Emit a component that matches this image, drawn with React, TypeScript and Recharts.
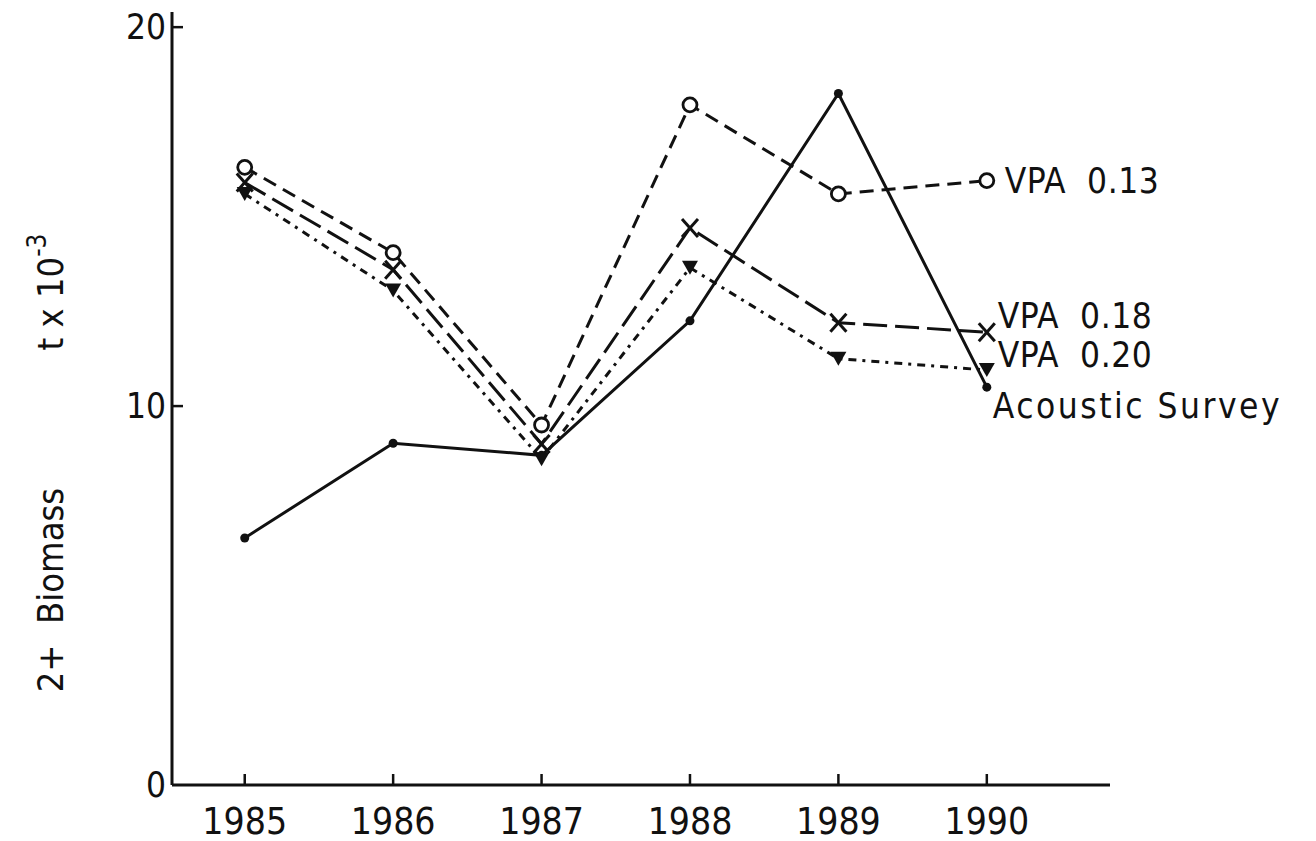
import { LineChart, Line, XAxis, YAxis, LabelList } from "recharts";

// Biomass estimates, t x 10^-3
const years = [1985, 1986, 1987, 1988, 1989, 1990];
const vpa013 = [16.3, 14.05, 9.5, 17.95, 15.6, 15.95];
const vpa018 = [15.9, 13.6, 9.0, 14.7, 12.2, 11.95];
const vpa020 = [15.6, 13.05, 8.6, 13.65, 11.25, 10.95];
const acoustic = [6.52, 9.02, 8.7, 12.25, 18.25, 10.5];
const yTicks = [0, 10, 20];

const data = years.map((year, i) => ({
  year,
  vpa013: vpa013[i],
  vpa018: vpa018[i],
  vpa020: vpa020[i],
  acoustic: acoustic[i],
}));

const FONT = "'DejaVu Sans Condensed', 'Liberation Sans Narrow', sans-serif";
const NARROW = "'Liberation Sans Narrow', 'DejaVu Sans Condensed', sans-serif";
const INK = "#111";

const CircleDot = ({ cx, cy }: any) => (
  <circle cx={cx} cy={cy} r={7} fill="#fff" stroke={INK} strokeWidth={2.8} />
);

const CrossDot = ({ cx, cy }: any) => (
  <g stroke={INK} strokeWidth={3}>
    <line x1={cx - 8} y1={cy - 9} x2={cx + 8} y2={cy + 9} />
    <line x1={cx + 8} y1={cy - 9} x2={cx - 8} y2={cy + 9} />
  </g>
);

const TriangleDot = ({ cx, cy }: any) => (
  <polygon
    points={`${cx - 8},${cy - 7} ${cx + 8},${cy - 7} ${cx},${cy + 7}`}
    fill={INK}
  />
);

const SolidDot = ({ cx, cy }: any) => <circle cx={cx} cy={cy} r={4.5} fill={INK} />;

const series = [
  { key: "vpa013", name: "VPA  0.13", dash: "14 8", dot: CircleDot, dx: 18, dy: 0, spacing: 0.5 },
  { key: "vpa018", name: "VPA  0.18", dash: "24 8", dot: CrossDot, dx: 11, dy: -16, spacing: 0.5 },
  { key: "vpa020", name: "VPA  0.20", dash: "8 6 3 6", dot: TriangleDot, dx: 11, dy: -15, spacing: 0.5 },
  { key: "acoustic", name: "Acoustic Survey", dash: undefined, dot: SolidDot, dx: 6, dy: 19, spacing: 2.5 },
];

const XTick = ({ x, y, payload }: any) => (
  <g>
    <line x1={x} y1={y} x2={x} y2={y - 11} stroke={INK} strokeWidth={2.5} />
    <text x={x} y={y + 36} textAnchor="middle" dominantBaseline="central" fontFamily={NARROW} fontSize={37} fill={INK}>
      {payload.value}
    </text>
  </g>
);

const YTick = ({ x, y, payload }: any) => (
  <g>
    {payload.value > 0 && (
      <line x1={x} y1={y} x2={x + 11} y2={y} stroke={INK} strokeWidth={2.5} />
    )}
    <text x={x - 6} y={y} textAnchor="end" dominantBaseline="central" fontFamily={NARROW} fontSize={35} fill={INK}>
      {payload.value}
    </text>
  </g>
);

const YTitle = () => (
  <g fontFamily={FONT} fontSize={36} fill={INK}>
    <text
      transform="translate(50, 590) rotate(-90)"
      textAnchor="middle"
      dominantBaseline="central"
      xmlSpace="preserve"
      style={{ whiteSpace: "pre" }}
    >
      {"2+  Biomass"}
    </text>
    <text transform="translate(50, 292) rotate(-90)" textAnchor="middle" dominantBaseline="central">
      t x 10
      <tspan fontSize={26} dy={-13}>-3</tspan>
    </text>
  </g>
);

const endLabel = (s: (typeof series)[number]) => (props: any) => {
  const { x, y, index } = props;
  if (index !== years.length - 1) return null;
  return (
    <text
      x={x + s.dx}
      y={y + s.dy}
      dominantBaseline="central"
      fontFamily={FONT}
      fontSize={35}
      letterSpacing={s.spacing}
      fill={INK}
      xmlSpace="preserve"
      style={{ whiteSpace: "pre" }}
    >
      {s.name}
    </text>
  );
};

export default function App() {
  return (
    <div style={{ width: 1316, height: 841, margin: "-8px 0 0 -8px", background: "#fff" }}>
      <LineChart width={1316} height={841} data={data} margin={{ top: 12, right: 206, bottom: 0, left: 0 }}>
        <XAxis
          type="number"
          dataKey="year"
          domain={[1984.51, 1990.83]}
          ticks={years}
          tickSize={0}
          tickMargin={0}
          tick={<XTick />}
          axisLine={{ stroke: INK, strokeWidth: 3 }}
          height={56}
        />
        <YAxis
          type="number"
          domain={[0, 20.4]}
          ticks={yTicks}
          tickSize={0}
          tickMargin={0}
          tick={<YTick />}
          axisLine={{ stroke: INK, strokeWidth: 3 }}
          width={172}
          label={{ content: () => <YTitle /> }}
        />
        {series.map((s) => (
          <Line
            key={s.key}
            type="linear"
            dataKey={s.key}
            stroke={INK}
            strokeWidth={3}
            strokeDasharray={s.dash}
            dot={<s.dot />}
            isAnimationActive={false}
          >
            <LabelList dataKey={s.key} content={endLabel(s)} />
          </Line>
        ))}
      </LineChart>
    </div>
  );
}
